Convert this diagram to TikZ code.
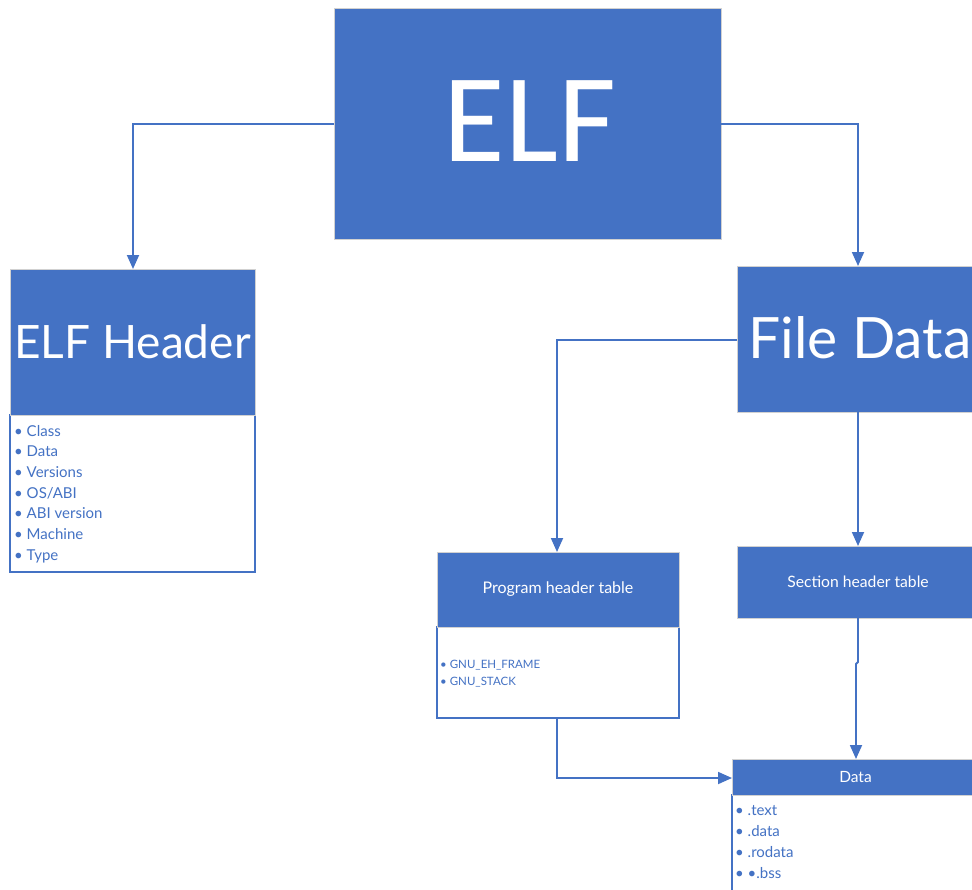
\documentclass[tikz,border=0pt]{standalone}
\usepackage{fontspec}
\setmainfont{Lato}
\newfontfamily\titlefont{Carlito}
\usetikzlibrary{arrows.meta}
\definecolor{elfblue}{HTML}{4472C4}
\tikzset{
  headbox/.style={fill=elfblue, draw=black!18, line width=0.8pt, text=white,
    anchor=north west, inner sep=0pt, outer sep=0pt},
  listbox/.style={fill=white, draw=elfblue, line width=1.4pt,
    anchor=north west, inner sep=0pt, outer sep=0pt},
  item/.style={anchor=base west, inner sep=0pt, text=elfblue, font=\fontsize{15}{18}\selectfont},
  smallitem/.style={anchor=base west, inner sep=0pt, text=elfblue, font=\fontsize{11.5}{13}\selectfont},
  link/.style={draw=elfblue, line width=1.8pt, -{Triangle[length=14pt,width=12pt]}},
}
\begin{document}
\begin{tikzpicture}[x=1pt,y=-1pt]
\useasboundingbox (0,0) rectangle (972,889);
\clip (0,0) rectangle (972,889);

% top-level ELF box
\node[headbox, minimum width=387pt, minimum height=231pt] (elf) at (334,8) {};
\node[text=white, inner sep=0pt, font=\titlefont\fontsize{126}{130}\selectfont]
  (elftext) at (530,121) {ELF};

% ELF header: title and field list
\node[listbox, minimum width=245pt, minimum height=157pt] (hlist) at (10,415) {};
\node[headbox, minimum width=245pt, minimum height=146pt,
  font=\fontsize{46}{50}\selectfont] (hdr) at (10,269) {ELF Header};
\foreach \t [count=\i from 0] in {Class,Data,Versions,OS/ABI,ABI version,Machine,Type}
  \node[item] (hitem\i) at (14,{436+20.7*\i}) {• \t};

% file data
\node[headbox, minimum width=250pt, minimum height=146pt] (fdata) at (737,266) {};
\node[anchor=west, inner sep=0pt, text=white,
  font=\fontsize{57}{60}\selectfont] (fdatatext) at (748,338) {File Data};

% program header table
\node[listbox, minimum width=242pt, minimum height=91pt] (plist) at (437,627) {};
\node[headbox, minimum width=242pt, minimum height=75pt,
  font=\fontsize{16}{19}\selectfont] (prog) at (437,552) {Program header table};
\node[smallitem] (pitem0) at (440,668) {• GNU\_EH\_FRAME};
\node[smallitem] (pitem1) at (440,685) {• GNU\_STACK};

% section header table
\node[headbox, minimum width=242pt, minimum height=72pt,
  font=\fontsize{15.7}{19}\selectfont] (sect) at (737,546) {Section header table};

% data sections
\node[listbox, minimum width=250pt, minimum height=110pt] (dlist) at (732,795) {};
\node[headbox, minimum width=247pt, minimum height=36pt,
  font=\fontsize{15.5}{18}\selectfont] (data) at (732,759) {Data};
\foreach \t [count=\i from 0] in {.text,.data,.rodata,•.bss}
  \node[item] (ditem\i) at (735,{815.5+21*\i}) {• \t};

% connectors
\draw[link] (elf.west |- 0,124) -| (hdr.north -| 133,0);
\draw[link] (elf.east |- 0,124) -| (fdata.north -| 858,0);
\draw[link] (fdata.west |- 0,340) -| (prog.north -| 557,0);
\draw[link] (fdata.south -| 858,0) -- (sect.north -| 858,0);
\coordinate (jog) at (858,662);
\draw[link] (sect.south -| 858,0) -- (jog) -- (856,664) -- (data.north -| 856,0);
\draw[link] (plist.south -| 557,0) |- (data.west |- 0,778);
\end{tikzpicture}
\end{document}
